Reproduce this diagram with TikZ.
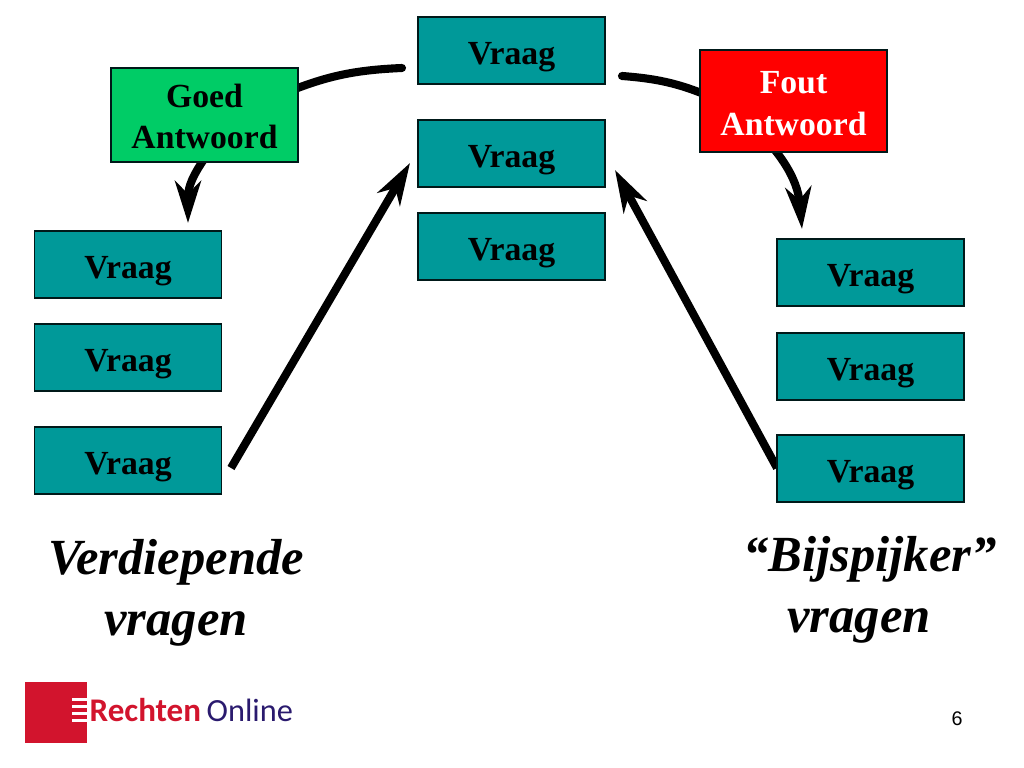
\documentclass[tikz,border=0pt]{standalone}
\usepackage{fontspec}
\setmainfont{Liberation Serif}
\newfontfamily\logofont{Carlito}
\newfontfamily\numfont{Liberation Sans}
\usetikzlibrary{arrows.meta}
\definecolor{vraagteal}{HTML}{009999}
\definecolor{goedgreen}{HTML}{00CC66}
\definecolor{logored}{HTML}{D2142D}
\definecolor{logoblue}{HTML}{2A1A6E}
\tikzset{
	vraagbox/.style = {draw=black!80!teal, line width=0.35pt, fill=vraagteal, minimum width=1.87cm, minimum height=0.67cm, inner sep=0pt, text height=9.6pt, text depth=1.9pt, font=\fontsize{9.6}{11}\selectfont\bfseries},
	antwoordbox/.style = {draw=black!80!teal, line width=0.35pt, minimum width=1.87cm, align=center, inner sep=0pt, font=\fontsize{9.6}{11.9}\selectfont\bfseries},
	kop/.style = {align=center, inner sep=0pt, font=\fontsize{14.4}{17.3}\selectfont\bfseries\itshape},
	pijl/.style = {line width=2.3pt, -{Stealth[length=0.42cm, width=0.26cm, inset=0.13cm]}},
	boog/.style = {line width=2.3pt, line cap=round}
}
\begin{document}
\begin{tikzpicture}
	\useasboundingbox (0,0) rectangle (10.24,7.68);

	\coordinate (topl) at (4.02,7.0);
	\coordinate (topr) at (6.22,6.92);
	\coordinate (goedin) at (2.8,6.73);
	\coordinate (foutin) at (7.2,6.67);
	\coordinate (goeduit) at (2.4,6.58);
	\coordinate (foutuit) at (7.4,6.53);
	\coordinate (pijll) at (1.88,5.45);
	\coordinate (pijlr) at (8.02,5.39);
	\coordinate (l3uit) at (2.31,3.0);
	\coordinate (r3uit) at (7.77,3.0);
	\coordinate (m2l) at (4.1,6.05);
	\coordinate (m2r) at (6.15,5.98);

	\draw[boog] (topl) to [bend right=10] (goedin);
	\draw[boog] (topr) to [bend left=10] (foutin);
	\draw[pijl] (goeduit) to [out=-125,in=90] (pijll);
	\draw[pijl] (foutuit) to [out=-40,in=95] (pijlr);
	\draw[pijl] (l3uit) -- (m2l);
	\draw[pijl] (r3uit) -- (m2r);

	% midden
	\node[vraagbox] (m1) at (5.115,7.175) {Vraag};
	\node[vraagbox] (m2) at (5.115,6.145) {Vraag};
	\node[vraagbox] (m3) at (5.115,5.215) {Vraag};

	% links
	\node[vraagbox] (l1) at (1.28,5.035) {Vraag};
	\node[vraagbox] (l2) at (1.28,4.105) {Vraag};
	\node[vraagbox] (l3) at (1.28,3.075) {Vraag};

	% rechts
	\node[vraagbox] (r1) at (8.705,4.955) {Vraag};
	\node[vraagbox] (r2) at (8.705,4.015) {Vraag};
	\node[vraagbox] (r3) at (8.705,2.995) {Vraag};

	\node[antwoordbox, fill=goedgreen, minimum height=0.94cm] (goed) at (2.045,6.53) {Goed\rule{0pt}{7.5pt}\\Antwoord};
	\node[antwoordbox, fill=red, text=white, minimum height=1.02cm] (fout) at (7.935,6.67) {Fout\rule{0pt}{8pt}\\Antwoord};

	\node[kop] (verdiep) at (1.76,1.75) {Verdiepende\\vragen};
	\node[kop] (bijspijker) at (8.7,1.78) {“Bijspijker”\\vragen\hspace*{0.22cm}};

	% logo
	\fill[logored] (0.25,0.25) rectangle (0.87,0.86);
	\foreach \y in {0.46,0.53,0.6,0.67}{
		\fill[white] (0.72,\y) rectangle (0.88,\y+0.03);
	}
	\node[anchor=base west, inner sep=0pt, text=logored, font=\fontsize{9.4}{11}\logofont\bfseries] (rechten) at (0.89,0.46) {Rechten};
	\node[anchor=base west, inner sep=0pt, text=logoblue, font=\fontsize{9.2}{11}\logofont] (online) at (2.06,0.46) {Online};

	\node[font=\fontsize{5.6}{7}\numfont] (pagina) at (9.57,0.49) {6};

\end{tikzpicture}
\end{document}
